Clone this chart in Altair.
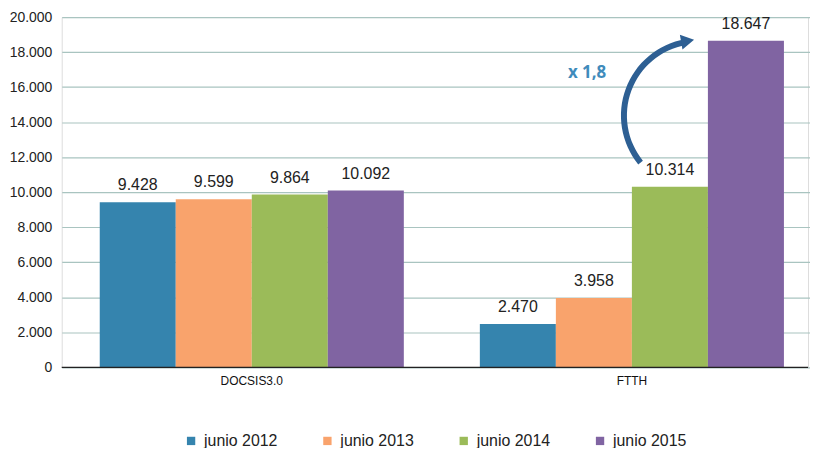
import altair as alt
import pandas as pd

categories = ["DOCSIS3.0", "FTTH"]
series = ["junio 2012", "junio 2013", "junio 2014", "junio 2015"]
docsis_values = [9428, 9599, 9864, 10092]
ftth_values = [2470, 3958, 10314, 18647]
colors = ["#3584ae", "#f9a36c", "#9bbb59", "#8064a2"]
y_ticks = [0, 2000, 4000, 6000, 8000, 10000, 12000, 14000, 16000, 18000, 20000]

rows = []
for cat, vals in zip(categories, [docsis_values, ftth_values]):
    for s, v in zip(series, vals):
        rows.append({"cat": cat, "serie": s, "valor": v})
df = pd.DataFrame(rows)

FONT = "Liberation Sans Narrow, Liberation Sans, Arial, sans-serif"
W, H = 750, 352

x = alt.X("cat:N", sort=categories, title=None,
          scale=alt.Scale(paddingInner=0.2, paddingOuter=0.1, range=[0, 764]),
          axis=alt.Axis(labelAngle=0, ticks=False, domain=False, labelFontSize=12,
                        labelFont=FONT, labelColor="#111", labelPadding=8))
y_axis = alt.Axis(values=y_ticks, domain=False, ticks=False, labelFontSize=14,
                  labelFont=FONT, labelColor="#222", labelPadding=10,
                  labelOverlap=False, gridColor="#a9c4c0", gridWidth=1.2,
                  labelExpr="replace(format(datum.value, ','), ',', '.')")
y_scale = alt.Scale(domain=[0, 20000], nice=False)
y = alt.Y("valor:Q", title=None, scale=y_scale, axis=y_axis)
xo = alt.XOffset("serie:N", sort=series)
color = alt.Color("serie:N", sort=series,
                  scale=alt.Scale(domain=series, range=colors),
                  legend=alt.Legend(title=None, orient="none", legendX=122, legendY=418,
                                    direction="horizontal", columns=4, symbolType="square",
                                    symbolSize=70, symbolStrokeWidth=0, labelFontSize=16,
                                    labelFont=FONT, labelColor="#222", columnPadding=42,
                                    labelOffset=5, padding=0))

base = alt.Chart(df)
bars = base.mark_bar().encode(x=x, xOffset=xo, y=y, color=color)
labels = base.transform_calculate(
    lbl="replace(format(datum.valor, ','), ',', '.')"
).mark_text(baseline="bottom", dy=-9, fontSize=16, font=FONT, color="#222").encode(
    x=x, xOffset=xo, y=y, text="lbl:N")

zero = alt.Chart(pd.DataFrame({"v": [0]})).mark_rule(color="#222", strokeWidth=1.3).encode(
    y=alt.Y("v:Q", title=None, scale=y_scale, axis=y_axis))

# annotation: curved arrow and "x 1,8" text
ann_df = pd.DataFrame({"t": ["x 1,8"]})
arc = alt.Chart(ann_df).mark_arc(color="#2d5f93", theta=231 * 3.14159 / 180,
                                 theta2=350 * 3.14159 / 180, radius=78, radius2=72).encode(
    x=alt.value(640), y=alt.value(99))
head = alt.Chart(ann_df).mark_point(shape="triangle-right", filled=True, color="#2d5f93",
                                    size=230, angle=350, opacity=1).encode(
    x=alt.value(629), y=alt.value(24))
txt = alt.Chart(ann_df).mark_text(font="Open Sans", fontWeight="bold", fontSize=17,
                                  color="#3f8bbb").encode(
    x=alt.value(528), y=alt.value(56), text="t:N")

chart = alt.layer(bars, labels, zero, arc, head, txt).properties(
    width=W, height=H,
    autosize=alt.AutoSizeParams(type="none"),
    padding={"left": 54, "top": 8, "right": 2, "bottom": 80},
).configure_view(stroke=None).configure(background="white")

chart.save("out.html", embed_options={"renderer": "svg", "actions": False})
